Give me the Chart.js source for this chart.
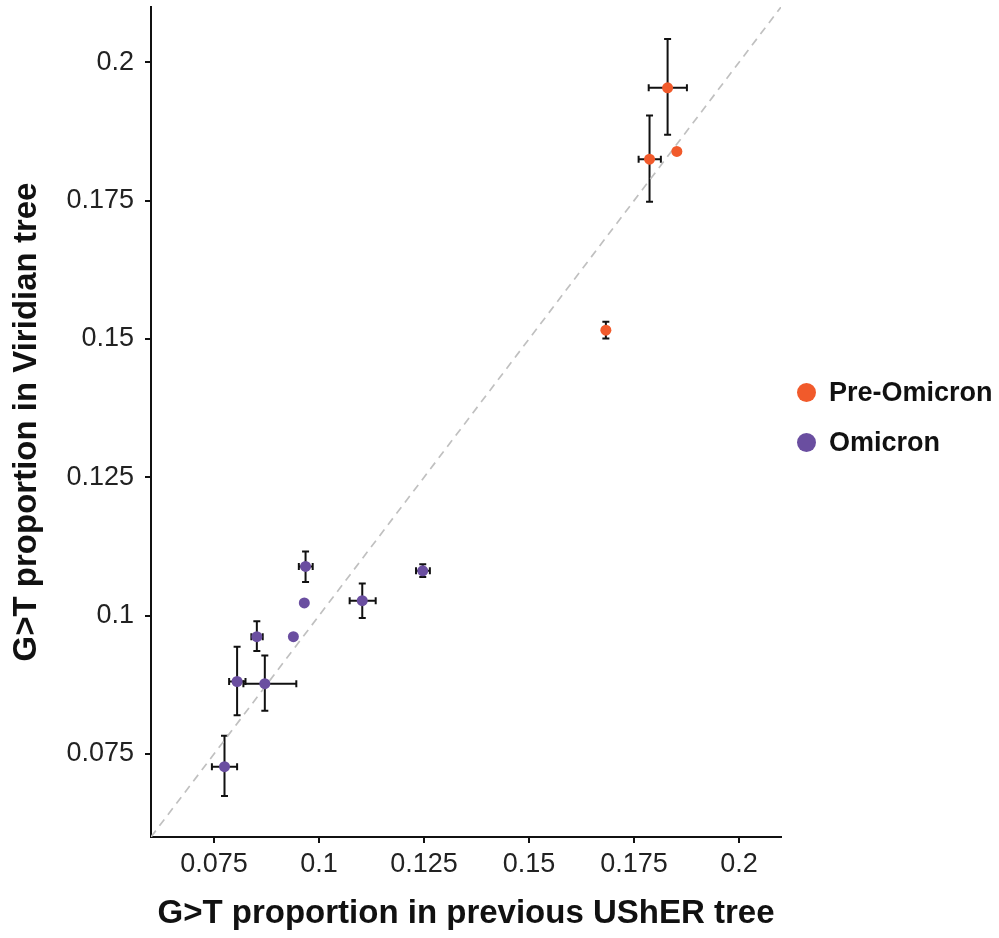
<!DOCTYPE html>
<html>
<head>
<meta charset="utf-8">
<script src="https://cdn.jsdelivr.net/npm/chart.js@4/dist/chart.umd.min.js"></script>
<style>
  body { margin: 0; background: #fff; }
  #wrap { position: relative; width: 999px; height: 938px; }
  .lg { position: absolute; left: 797px; font: bold 27px 'Liberation Sans Narrow', 'Arial Narrow', 'Liberation Sans', sans-serif; color: #111; display: flex; align-items: center; height: 30px; white-space: nowrap; }
  .lg span.dot { width: 19px; height: 19px; border-radius: 50%; display: inline-block; margin-right: 13px; flex: none; }
</style>
</head>
<body>
<div id="wrap">
  <canvas id="c" width="999" height="938"></canvas>
  <div class="lg" style="top:377px"><span class="dot" style="background:#f15a2b"></span>Pre-Omicron</div>
  <div class="lg" style="top:427px"><span class="dot" style="background:#6a4ea0"></span>Omicron</div>
</div>
<script>
// axis range + ticks
const AXIS_RANGE = [0.06, 0.21];
const TICKS = [0.075, 0.1, 0.125, 0.15, 0.175, 0.2];

// Pre-Omicron
const PRE_X   = [0.1830, 0.1787, 0.1852, 0.1683];
const PRE_Y   = [0.1954, 0.1825, 0.1839, 0.1516];
const PRE_XLO = [0.1785, 0.1761, null, null];
const PRE_XHI = [0.1876, 0.1814, null, null];
const PRE_YLO = [0.1869, 0.1748, null, 0.1501];
const PRE_YHI = [0.2042, 0.1904, null, 0.1531];

// Omicron
const OMI_X   = [0.0968, 0.0965, 0.1103, 0.1247, 0.0852, 0.0939, 0.0805, 0.0871, 0.0775];
const OMI_Y   = [0.1089, 0.1023, 0.1027, 0.1081, 0.0962, 0.0962, 0.0881, 0.0877, 0.0727];
const OMI_XLO = [0.0952, null, 0.1073, 0.1231, 0.0839, null, 0.0786, 0.0820, 0.0745];
const OMI_XHI = [0.0985, null, 0.1135, 0.1264, 0.0866, null, 0.0825, 0.0946, 0.0805];
const OMI_YLO = [0.1061, null, 0.0996, 0.1070, 0.0936, null, 0.0820, 0.0828, 0.0674];
const OMI_YHI = [0.1116, null, 0.1058, 0.1093, 0.0990, null, 0.0944, 0.0928, 0.0783];

const FONT = "'Liberation Sans Narrow', 'Arial Narrow', 'Liberation Sans', sans-serif";

const pts = (xs, ys, xlo, xhi, ylo, yhi) =>
  xs.map((x, i) => ({ x, y: ys[i], xlo: xlo[i], xhi: xhi[i], ylo: ylo[i], yhi: yhi[i] }));

// error bars, drawn under the points
const errorBars = {
  id: "errorBars",
  beforeDatasetsDraw(chart) {
    const { ctx, scales: { x, y } } = chart;
    const cap = 3.5;
    ctx.save();
    ctx.strokeStyle = "#111";
    ctx.lineWidth = 2;
    chart.data.datasets.forEach(ds => {
      if (!ds.errors) return;
      ds.data.forEach(p => {
        const px = x.getPixelForValue(p.x), py = y.getPixelForValue(p.y);
        ctx.beginPath();
        if (p.ylo != null) {
          const a = y.getPixelForValue(p.ylo), b = y.getPixelForValue(p.yhi);
          ctx.moveTo(px, a); ctx.lineTo(px, b);
          ctx.moveTo(px - cap, a); ctx.lineTo(px + cap, a);
          ctx.moveTo(px - cap, b); ctx.lineTo(px + cap, b);
        }
        if (p.xlo != null) {
          const a = x.getPixelForValue(p.xlo), b = x.getPixelForValue(p.xhi);
          ctx.moveTo(a, py); ctx.lineTo(b, py);
          ctx.moveTo(a, py - cap); ctx.lineTo(a, py + cap);
          ctx.moveTo(b, py - cap); ctx.lineTo(b, py + cap);
        }
        ctx.stroke();
      });
    });
    ctx.restore();
  }
};

const axisCommon = {
  type: "linear",
  min: AXIS_RANGE[0],
  max: AXIS_RANGE[1],
  afterBuildTicks: s => { s.ticks = TICKS.map(v => ({ value: v })); },
  grid: { drawOnChartArea: false, drawTicks: true, tickLength: 6, color: "#111", lineWidth: 2 },
  border: { display: true, color: "#111", width: 2 },
  ticks: {
    color: "#222",
    font: { family: FONT, size: 27 },
    padding: 8,
    callback: v => String(+v.toFixed(3))
  },
  title: { display: true, color: "#111", font: { family: FONT, size: 33, weight: "bold" } }
};

new Chart(document.getElementById("c"), {
  type: "scatter",
  data: {
    datasets: [
      {
        type: "line",
        data: AXIS_RANGE.map(v => ({ x: v, y: v })),
        borderColor: "#c0c0c0",
        borderWidth: 1.7,
        borderDash: [8, 6],
        pointRadius: 0,
        order: 3
      },
      {
        label: "Pre-Omicron",
        data: pts(PRE_X, PRE_Y, PRE_XLO, PRE_XHI, PRE_YLO, PRE_YHI),
        errors: true,
        backgroundColor: "#f15a2b",
        borderWidth: 0,
        pointRadius: 5.5,
        order: 1
      },
      {
        label: "Omicron",
        data: pts(OMI_X, OMI_Y, OMI_XLO, OMI_XHI, OMI_YLO, OMI_YHI),
        errors: true,
        backgroundColor: "#6a4ea0",
        borderWidth: 0,
        pointRadius: 5.5,
        order: 2
      }
    ]
  },
  options: {
    responsive: false,
    animation: false,
    layout: { padding: { top: 7, right: 218, left: 0, bottom: 0 } },
    plugins: { legend: { display: false }, tooltip: { enabled: false } },
    scales: {
      x: {
        ...axisCommon,
        ticks: { ...axisCommon.ticks, padding: 5 },
        afterFit: s => { s.height = 101; s.paddingLeft = 0; s.paddingRight = 0; },
        title: { ...axisCommon.title, text: "G>T proportion in previous UShER tree", padding: { top: 0, bottom: 4 } }
      },
      y: {
        ...axisCommon,
        ticks: { ...axisCommon.ticks, padding: 11 },
        afterFit: s => { s.width = 151; s.paddingTop = 0; s.paddingBottom = 0; },
        title: { ...axisCommon.title, text: "G>T proportion in Viridian tree", padding: { top: 7, bottom: 0 } }
      }
    }
  },
  plugins: [errorBars]
});
</script>
</body>
</html>
